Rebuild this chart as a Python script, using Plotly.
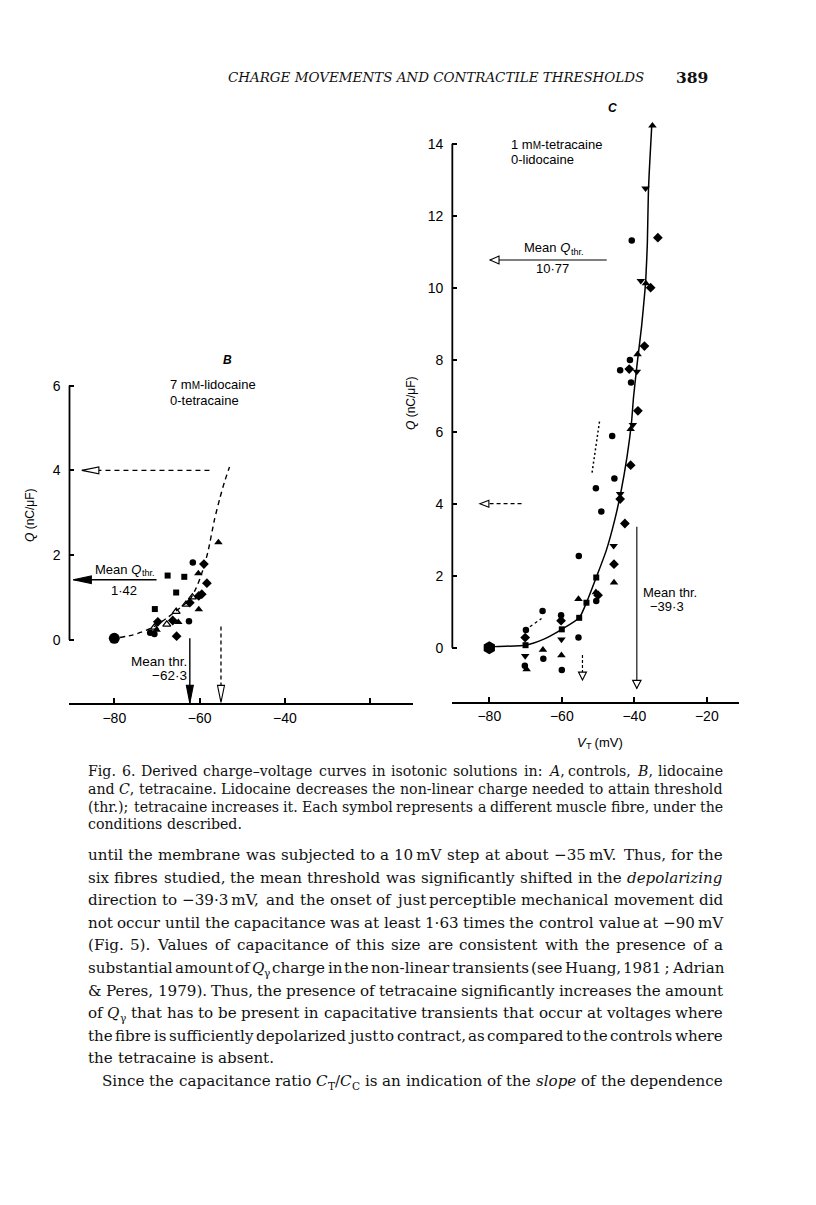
import os, re, glob, struct
import plotly.graph_objects as go

# ====================== DATA ======================
# Panel B : 7 mM-lidocaine, 0-tetracaine   (V_T in mV, Q in nC/uF)
b_circle_v  = [-61.6, -62.5, -71.6, -70.6]
b_circle_q  = [1.83, 0.44, 0.17, 0.14]
b_square_v  = [-67.5, -63.6, -65.5, -70.5]
b_square_q  = [1.52, 1.49, 1.12, 0.73]
b_diamond_v = [-59.0, -58.3, -59.5, -60.2, -62.3, -69.8, -66.3, -65.4]
b_diamond_q = [1.79, 1.34, 1.08, 1.04, 0.88, 0.43, 0.46, 0.09]
b_tri_v     = [-55.6, -60.3, -60.2, -65.0, -70.1]
b_tri_q     = [2.30, 1.57, 0.72, 0.42, 0.24]
b_otri_v    = [-61.7, -63.2, -65.5, -67.7, -70.6]
b_otri_q    = [1.01, 0.84, 0.67, 0.37, 0.30]
b_rest_v    = [-80.0]
b_rest_q    = [0.04]
b_curve_v   = [-78.7, -75.6, -71.3, -67.8, -64.7, -62.3, -60.8, -59.6, -58.1, -56.5, -55.3, -54.2, -53.0]
b_curve_q   = [0.06, 0.12, 0.28, 0.51, 0.75, 0.95, 1.23, 1.54, 2.06, 2.85, 3.33, 3.72, 4.08]
b_mean_q_thr = 1.42
b_mean_thr   = -62.3
b_ctrl_q_thr = 4.0
b_ctrl_thr   = -55.0
b_meanq_arrow_v   = [-70.1, -89.6]
b_ctrlq_arrow_v   = [-57.7, -87.6]
b_meanthr_arrow_q = [0.04, -1.49]
b_ctrlthr_arrow_q = [0.32, -1.47]

# Panel C : 1 mM-tetracaine, 0-lidocaine
c_circle_v  = [-69.9, -70.2, -65.3, -65.1, -60.2, -60.0, -55.4, -55.3, -50.6, -50.5, -49.1, -46.1, -45.5, -40.9, -41.2, -43.9, -40.7]
c_circle_q  = [0.49, -0.50, 1.02, -0.31, 0.90, -0.62, 0.28, 2.55, 4.43, 1.30, 3.78, 5.88, 4.70, 7.37, 7.99, 7.71, 11.31]
c_square_v  = [-70.0, -60.0, -55.2, -53.2, -50.5]
c_square_q  = [0.07, 0.51, 0.83, 1.25, 1.95]
c_diamond_v = [-70.1, -60.2, -50.0, -45.6, -43.9, -42.6, -41.0, -39.0, -41.4, -37.2, -35.5, -33.5]
c_diamond_q = [0.28, 0.75, 1.46, 2.32, 4.13, 3.45, 5.07, 6.58, 7.74, 8.38, 10.00, 11.39]
c_tri_v     = [-69.7, -65.2, -60.1, -55.4, -50.6, -45.6, -41.0, -39.1, -36.8, -35.0]
c_tri_q     = [-0.60, -0.06, -0.21, 1.35, 1.54, 1.81, 6.07, 8.15, 10.12, 14.50]
c_itri_v    = [-70.1, -60.1, -45.7, -43.9, -40.4, -39.3, -38.2, -36.9]
c_itri_q    = [-0.23, 0.23, 2.83, 4.27, 6.19, 7.67, 10.19, 12.76]
c_rest_v    = [-80.0]
c_rest_q    = [0.0]
c_curve_v   = [-80.0, -78.4, -70.0, -65.1, -60.0, -55.2, -53.2, -50.5, -47.7, -45.4, -43.6, -42.0, -40.8,
               -40.2, -39.2, -38.0, -37.05, -36.8, -36.4, -36.1, -35.7, -35.2]
c_curve_q   = [0.0, 0.03, 0.07, 0.23, 0.51, 0.83, 1.25, 1.95, 2.71, 3.55, 4.38, 5.31, 6.23,
               6.97, 7.90, 8.92, 9.94, 10.30, 11.23, 12.71, 13.55, 14.47]
c_shortdash_v = [-68.8, -65.6]
c_shortdash_q = [0.58, 0.81]
c_dotted_v  = [-49.6, -51.7]
c_dotted_q  = [6.28, 4.83]
c_mean_q_thr = 10.77
c_mean_thr   = -39.3
c_ctrl_q_thr = 4.0
c_ctrl_thr   = -54.3
c_meanq_arrow_v   = [-47.6, -79.8]
c_ctrlq_arrow_v   = [-71.1, -82.6]
c_meanthr_arrow_q = [3.36, -1.13]
c_ctrlthr_arrow_q = [-0.2, -0.9]

b_xticks = [-80, -60, -40]
b_xticklabels = ["\u221280", "\u221260", "\u221240"]
b_xminor = [-20]
b_yticks = [0, 2, 4, 6]
c_xticks = [-80, -60, -40, -20]
c_xticklabels = ["\u221280", "\u221260", "\u221240", "\u221220"]
c_yticks = [0, 2, 4, 6, 8, 10, 12, 14]

header_text = "CHARGE MOVEMENTS AND CONTRACTILE THRESHOLDS"
page_number = "389"

caption_lines = [
    ("Fig. 6. Derived charge\u2013voltage curves in isotonic solutions in: <i>A</i>, controls, <i>B</i>, lidocaine", True),
    ("and <i>C</i>, tetracaine. Lidocaine decreases the non-linear charge needed to attain threshold", True),
    ("(thr.); tetracaine increases it. Each symbol represents a different muscle fibre, under the", True),
    ("conditions described.", False),
]
body_lines = [
    ("until the membrane was subjected to a 10\u2009mV step at about \u221235\u2009mV. Thus, for the", True),
    ("six fibres studied, the mean threshold was significantly shifted in the <i>depolarizing</i>", True),
    ("direction to \u221239\u00b73\u2009mV, and the onset of just perceptible mechanical movement did", True),
    ("not occur until the capacitance was at least 1\u00b763 times the control value at \u221290\u2009mV", True),
    ("(Fig. 5). Values of capacitance of this size are consistent with the presence of a", True),
    ("substantial amount of <i>Q</i><sub>\u03b3</sub> charge in the non-linear transients (see Huang, 1981\u2009; Adrian", True),
    ("& Peres, 1979). Thus, the presence of tetracaine significantly increases the amount", True),
    ("of <i>Q</i><sub>\u03b3</sub> that has to be present in capacitative transients that occur at voltages where", True),
    ("the fibre is sufficiently depolarized just to contract, as compared to the controls where", True),
    ("the tetracaine is absent.", False),
    ("Since the capacitance ratio <i>C</i><sub>T</sub>/<i>C</i><sub>C</sub> is an indication of the <i>slope</i> of the dependence", True),
]

# ====================== GEOMETRY ======================
W, H = 816, 1205
SANS = "Liberation Sans"
SERIF = "DejaVu Serif"
INK = "#111111"

B_X80, B_PXV, B_Y0, B_PXQ = 114.3, 4.267, 640.0, 42.4
b_xr, b_yr = [-90.5, -10.0], [-1.49, 6.5]
C_X80, C_PXV, C_Y0, C_PXQ = 489.3, 3.625, 647.7, 36.0
c_xr, c_yr = [-90.2, -11.0], [-1.5, 14.8]

def xdom(x80, pxv, rng):
    return [(x80 + (rng[0] + 80) * pxv) / W, (x80 + (rng[1] + 80) * pxv) / W]

def ydom(y0, pxq, rng):
    return [1 - (y0 - rng[0] * pxq) / H, 1 - (y0 - rng[1] * pxq) / H]

# ====================== FONT METRICS ======================
def find_font(name):
    for d in ["/usr/share/fonts", "/usr/local/share/fonts", os.path.expanduser("~/.fonts"),
              os.path.expanduser("~/.local/share/fonts")]:
        hits = glob.glob(os.path.join(d, "**", name), recursive=True)
        if hits:
            return hits[0]
    return None

def load_widths(name, fallback):
    path = find_font(name)
    try:
        data = open(path, "rb").read()
        n = struct.unpack(">H", data[4:6])[0]
        tabs = {}
        for i in range(n):
            tag, cs, off, ln = struct.unpack(">4sIII", data[12 + 16 * i: 28 + 16 * i])
            tabs[tag.decode("latin1")] = off
        upem = struct.unpack(">H", data[tabs["head"] + 18: tabs["head"] + 20])[0]
        nhm = struct.unpack(">H", data[tabs["hhea"] + 34: tabs["hhea"] + 36])[0]
        ho = tabs["hmtx"]
        adv = [struct.unpack(">H", data[ho + 4 * i: ho + 4 * i + 2])[0] for i in range(nhm)]
        co = tabs["cmap"]
        nsub = struct.unpack(">H", data[co + 2: co + 4])[0]
        cmap = {}
        for i in range(nsub):
            pid, eid, so = struct.unpack(">HHI", data[co + 4 + 8 * i: co + 12 + 8 * i])
            st = co + so
            fmt = struct.unpack(">H", data[st: st + 2])[0]
            if fmt == 4 and pid in (0, 3):
                segx2 = struct.unpack(">H", data[st + 6: st + 8])[0]
                seg = segx2 // 2
                ends = struct.unpack(">%dH" % seg, data[st + 14: st + 14 + segx2])
                starts = struct.unpack(">%dH" % seg, data[st + 16 + segx2: st + 16 + 2 * segx2])
                deltas = struct.unpack(">%dh" % seg, data[st + 16 + 2 * segx2: st + 16 + 3 * segx2])
                rp = st + 16 + 3 * segx2
                roffs = struct.unpack(">%dH" % seg, data[rp: rp + segx2])
                for s in range(seg):
                    for c in range(starts[s], min(ends[s], 0x3000) + 1):
                        if roffs[s] == 0:
                            g = (c + deltas[s]) & 0xFFFF
                        else:
                            a = rp + 2 * s + roffs[s] + 2 * (c - starts[s])
                            g = struct.unpack(">H", data[a: a + 2])[0]
                            if g:
                                g = (g + deltas[s]) & 0xFFFF
                        cmap[c] = g
                break
        def w(ch):
            g = cmap.get(ord(ch), 0)
            return (adv[g] if g < nhm else adv[-1]) / upem
        return w
    except Exception:
        return lambda ch: fallback

serif_r = load_widths("DejaVuSerif.ttf", 0.56)
serif_i = load_widths("DejaVuSerif-Italic.ttf", 0.55)
sans_r = load_widths("LiberationSans-Regular.ttf", 0.52)
sans_i = load_widths("LiberationSans-Italic.ttf", 0.52)

def runs_of(s):
    out, ital, sub = [], False, False
    for tok in re.split(r"(<[^>]+>)", s):
        if not tok:
            continue
        if tok.startswith("<"):
            t = tok.strip("<>/").lower()
            closing = tok.startswith("</")
            if t == "i":
                ital = not closing
            elif t == "sub":
                sub = not closing
            continue
        out.append((tok, ital, sub))
    return out

def run_w(run, size, wr, wi):
    tok, ital, sub = run
    f = wi if ital else wr
    return sum(f(c) for c in tok) * size * (0.7 if sub else 1.0)

def markup_width(s, size, wr, wi):
    return sum(run_w(r, size, wr, wi) for r in runs_of(s))

annots = []

def txt(x, y, s, size, family=SANS, xanchor="center", yanchor="middle", angle=0, color="black"):
    annots.append(dict(x=x / W, y=1 - y / H, xref="paper", yref="paper", text=s, showarrow=False,
                       xanchor=xanchor, yanchor=yanchor, textangle=angle, borderpad=0, borderwidth=0,
                       font=dict(size=size, family=family, color=color)))

def place_rich(x, y, s, size, family, wr, wi, anchor="left", color="black"):
    """Place text whose subscripts are drawn as separate, smaller, lowered texts."""
    rs = runs_of(s)
    ws = [run_w(r, size, wr, wi) for r in rs]
    tot = sum(ws)
    x0 = x if anchor == "left" else (x - tot / 2 if anchor == "center" else x - tot)
    i = 0
    while i < len(rs):
        if rs[i][2]:
            txt(x0, y + 0.3 * size, rs[i][0], round(size * 0.7, 2), family, xanchor="left", color=color)
            x0 += ws[i]
            i += 1
        else:
            j, parts, wsum = i, [], 0.0
            while j < len(rs) and not rs[j][2]:
                tok, ital, _ = rs[j]
                parts.append("<i>%s</i>" % tok if ital else tok)
                wsum += ws[j]
                j += 1
            txt(x0, y, "".join(parts), size, family, xanchor="left", color=color)
            x0 += wsum
            i = j

def set_block(lines, xl, xr, y0, dy, indents=None):
    ratios = []
    for i, (ln, just) in enumerate(lines):
        if not just:
            continue
        words = ln.split(" ")
        nat = sum(markup_width(wd, 1.0, serif_r, serif_i) for wd in words) + (len(words) - 1) * serif_r(" ")
        ind = indents[i] if indents else 0
        ratios.append((xr - xl - ind) / nat)
    ratios.sort()
    size = ratios[len(ratios) // 2]
    for i, (ln, just) in enumerate(lines):
        words = ln.split(" ")
        ind = indents[i] if indents else 0
        ww = [markup_width(wd, size, serif_r, serif_i) for wd in words]
        sp = serif_r(" ") * size
        if just and len(words) > 1:
            gap = (xr - xl - ind - sum(ww)) / (len(words) - 1)
        else:
            gap = sp
        x = xl + ind
        y = y0 + i * dy
        for wd, w in zip(words, ww):
            place_rich(x, y, wd, size, SERIF, serif_r, serif_i, "left", INK)
            x += w + gap
    return size

# ====================== FIGURE ======================
fig = go.Figure()

def add_pts(xa, ya, v, q, symbol, size, lw=0, color="black"):
    fig.add_trace(go.Scatter(x=v, y=q, mode="markers", xaxis=xa, yaxis=ya, cliponaxis=False,
                             hoverinfo="skip",
                             marker=dict(symbol=symbol, size=size, color=color,
                                         line=dict(width=lw, color="black"))))

def add_line(xa, ya, v, q, dash="solid", width=1.4, shape="spline"):
    fig.add_trace(go.Scatter(x=v, y=q, mode="lines", xaxis=xa, yaxis=ya, cliponaxis=False,
                             hoverinfo="skip", line=dict(color="black", width=width, dash=dash, shape=shape,
                                                         smoothing=0.6)))

# ---- panel B ----
add_line("x", "y", b_curve_v, b_curve_q, dash="5px,4px", width=1.4)
add_line("x", "y", b_meanq_arrow_v, [b_mean_q_thr] * 2, width=1.4, shape="linear")
add_line("x", "y", b_ctrlq_arrow_v, [b_ctrl_q_thr] * 2, dash="5px,4px", width=1.3, shape="linear")
add_line("x", "y", [b_mean_thr] * 2, b_meanthr_arrow_q, width=1.4, shape="linear")
add_line("x", "y", [b_ctrl_thr] * 2, b_ctrlthr_arrow_q, dash="4px,3px", width=1.3, shape="linear")
add_pts("x", "y", b_circle_v, b_circle_q, "circle", 6.5)
add_pts("x", "y", b_square_v, b_square_q, "square", 6)
add_pts("x", "y", b_diamond_v, b_diamond_q, "diamond", 7.5)
add_pts("x", "y", b_tri_v, b_tri_q, "triangle-up", 7.5)
add_pts("x", "y", b_otri_v, b_otri_q, "triangle-up-open", 7, lw=1.2)
add_pts("x", "y", b_rest_v, b_rest_q, "circle", 11)

# ---- panel C ----
add_line("x2", "y2", c_curve_v, c_curve_q, width=1.5)
add_line("x2", "y2", c_shortdash_v, c_shortdash_q, dash="3px,3px", width=1.3, shape="linear")
add_line("x2", "y2", c_dotted_v, c_dotted_q, dash="2px,2.5px", width=1.5, shape="linear")
add_line("x2", "y2", c_meanq_arrow_v, [c_mean_q_thr] * 2, width=1.1, shape="linear")
add_line("x2", "y2", c_ctrlq_arrow_v, [c_ctrl_q_thr] * 2, dash="4px,3px", width=1.2, shape="linear")
add_line("x2", "y2", [c_mean_thr] * 2, c_meanthr_arrow_q, width=1.1, shape="linear")
add_line("x2", "y2", [c_ctrl_thr] * 2, c_ctrlthr_arrow_q, dash="3px,2px", width=1.2, shape="linear")
add_pts("x2", "y2", c_circle_v, c_circle_q, "circle", 6.5)
add_pts("x2", "y2", c_square_v, c_square_q, "square", 6)
add_pts("x2", "y2", c_diamond_v, c_diamond_q, "diamond", 7.5)
add_pts("x2", "y2", c_tri_v, c_tri_q, "triangle-up", 7.5)
add_pts("x2", "y2", c_itri_v, c_itri_q, "triangle-down", 7.5)
add_pts("x2", "y2", c_rest_v, c_rest_q, "hexagon", 13)

# ---- arrowheads (pixel-sized paths anchored at the tips) ----
shapes = []
def head(xr, yr, x, y, direction, L, h, filled):
    if direction == "left":
        path = "M0,0 L%g,%g L%g,%g Z" % (L, h, L, -h)
    else:
        path = "M0,0 L%g,%g L%g,%g Z" % (-h, L, h, L)
    shapes.append(dict(type="path", xref=xr, yref=yr, xsizemode="pixel", ysizemode="pixel",
                       xanchor=x, yanchor=y, path=path, layer="above",
                       fillcolor="black" if filled else "white",
                       line=dict(color="black", width=1.1)))

head("x", "y", b_meanq_arrow_v[1], b_mean_q_thr, "left", 18, 3.8, True)
head("x", "y", b_ctrlq_arrow_v[1], b_ctrl_q_thr, "left", 17, 3.5, False)
head("x", "y", b_mean_thr, b_meanthr_arrow_q[1], "down", 18, 3.5, True)
head("x", "y", b_ctrl_thr, b_ctrlthr_arrow_q[1], "down", 17, 3.5, False)
head("x2", "y2", c_meanq_arrow_v[1], c_mean_q_thr, "left", 9, 4, False)
head("x2", "y2", c_ctrlq_arrow_v[1], c_ctrl_q_thr, "left", 9, 3.5, False)
head("x2", "y2", c_mean_thr, c_meanthr_arrow_q[1], "down", 8, 4.2, False)
head("x2", "y2", c_ctrl_thr, c_ctrlthr_arrow_q[1], "down", 8, 4, False)

shapes.append(dict(type="line", xref="x domain", yref="y", x0=0, x1=0, y0=0, y1=max(b_yticks),
                   line=dict(color="black", width=1.8)))
shapes.append(dict(type="line", xref="x2 domain", yref="y2", x0=0, x1=0, y0=0, y1=max(c_yticks),
                   line=dict(color="black", width=1.8)))

# ---- texts in the figure ----
FS = 13
txt(227, 360, "<i><b>B</b></i>", 12)
txt(170, 385, "7 m<span style='font-size:10px'>M</span>-lidocaine", FS, xanchor="left")
txt(170, 401, "0-tetracaine", FS, xanchor="left")
place_rich(125, 569, "Mean <i>Q</i><sub>thr.</sub>", FS, SANS, sans_r, sans_i, "center")
txt(124, 590, "1\u00b742", FS)
txt(187, 661, "Mean thr.", 13.5, xanchor="right")
txt(187, 675, "\u221262\u00b73", 13.5, xanchor="right")
txt(30, 515, "<i>Q</i> (nC/\u03bcF)", 12, angle=-90)

txt(612, 108, "<i><b>C</b></i>", 12)
txt(511, 144, "1 m<span style='font-size:10px'>M</span>-tetracaine", FS, xanchor="left")
txt(511, 160, "0-lidocaine", FS, xanchor="left")
place_rich(554, 248, "Mean <i>Q</i><sub>thr.</sub>", FS, SANS, sans_r, sans_i, "center")
txt(552, 268, "10\u00b777", FS)
txt(670, 592, "Mean thr.", FS)
txt(667, 606, "\u221239\u00b73", FS)
txt(411, 403, "<i>Q</i> (nC/\u03bcF)", 12, angle=-90)
place_rich(600, 742, "<i>V</i><sub>T</sub> (mV)", FS, SANS, sans_r, sans_i, "center")

# ---- page header ----
hsize = 417.0 / markup_width("<i>" + header_text + "</i>", 1.0, serif_r, serif_i)
txt(228, 78, "<i>" + header_text + "</i>", hsize, family=SERIF, xanchor="left", color=INK)
txt(692, 78, "<b>" + page_number + "</b>", 15.5, family=SERIF, color=INK)

# ---- caption and body text (justified) ----
set_block(caption_lines, 88, 723, 771, 17.8)
set_block(body_lines, 88, 723, 855, 22.6, indents=[0] * 10 + [14])

axc = dict(showgrid=False, zeroline=False, ticks="inside", ticklen=5, tickwidth=1.5,
           tickcolor="black", fixedrange=True,
           tickfont=dict(family=SANS, size=14, color="black"))

fig.update_layout(
    width=W, height=H, autosize=False, showlegend=False,
    margin=dict(l=0, r=0, t=0, b=0),
    paper_bgcolor="white", plot_bgcolor="rgba(0,0,0,0)",
    xaxis=dict(domain=xdom(B_X80, B_PXV, b_xr), range=b_xr, anchor="y", showline=True,
               linewidth=1.8, linecolor="black", tickvals=b_xticks, ticktext=b_xticklabels,
               ticklabelstandoff=1,
               minor=dict(tickvals=b_xminor, ticks="inside", ticklen=5, tickwidth=1.5,
                          tickcolor="black", showgrid=False), **axc),
    yaxis=dict(domain=ydom(B_Y0, B_PXQ, b_yr), range=b_yr, anchor="x", showline=False,
               tickvals=b_yticks, ticklabelstandoff=8, **axc),
    xaxis2=dict(domain=xdom(C_X80, C_PXV, c_xr), range=c_xr, anchor="y2", showline=True,
                linewidth=1.8, linecolor="black", tickvals=c_xticks, ticktext=c_xticklabels,
                ticklabelstandoff=1, **axc),
    yaxis2=dict(domain=ydom(C_Y0, C_PXQ, c_yr), range=c_yr, anchor="x2", showline=False,
                tickvals=c_yticks, ticklabelstandoff=8, **axc),
    shapes=shapes, annotations=annots,
)

fig.write_html("out.html", config={"displayModeBar": False},
               post_script="document.body.style.margin='0';document.body.style.padding='0';")
